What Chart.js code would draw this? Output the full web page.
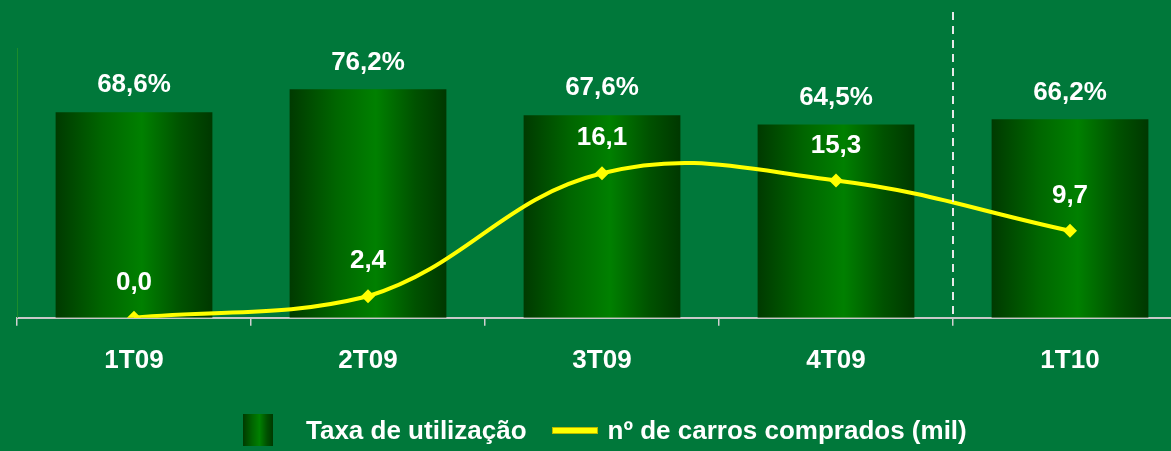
<!DOCTYPE html>
<html>
<head>
<meta charset="utf-8">
<script src="https://cdn.jsdelivr.net/npm/chart.js@4"></script>
<style>
  html, body { margin: 0; padding: 0; background: #00783a; overflow: hidden; }
  .wrap { position: relative; width: 1171px; height: 451px; overflow: hidden; }
  canvas { position: absolute; left: 0; top: 0; }
  .legend { position: absolute; left: 243px; top: 414px; display: flex; align-items: center;
            font: bold 26px "Liberation Sans", Arial, sans-serif; color: #fff; white-space: nowrap; }
  .box { width: 30px; height: 32px; margin-right: 33px;
         background: linear-gradient(to right, #003a00 0%, #006400 30%, #008000 55%, #005000 80%, #003800 100%); }
  .ln { width: 44px; height: 5px; background: #ffff00; border: 1px solid #b8b800; margin: 0 10px 0 25px; }
</style>
</head>
<body>
<div class="wrap">
  <canvas id="myChart" width="1194" height="451"></canvas>
  <div class="legend">
    <span class="box"></span><span>Taxa de utilização</span>
    <span class="ln"></span><span>nº de carros comprados (mil)</span>
  </div>
</div>
<script>
const categories = ['1T09', '2T09', '3T09', '4T09', '1T10'];
const taxaUtilizacao = [68.6, 76.2, 67.6, 64.5, 66.2];
const carrosComprados = [0.0, 2.4, 16.1, 15.3, 9.7];

const FONT = '"Liberation Sans", Arial, sans-serif';
const fmt = v => v.toFixed(1).replace('.', ',');

function barGradient(c) {
    const chart = c.chart;
    if (!chart.chartArea) return '#006400';
    const x = chart.scales.x;
    const step = x.getPixelForValue(1) - x.getPixelForValue(0);
    const w = step * 0.67;
    const cx = x.getPixelForValue(c.dataIndex);
    const g = chart.ctx.createLinearGradient(cx - w / 2, 0, cx + w / 2, 0);
    g.addColorStop(0, '#003a00');
    g.addColorStop(0.3, '#006600');
    g.addColorStop(0.55, '#008000');
    g.addColorStop(0.8, '#005200');
    g.addColorStop(1, '#003800');
    return g;
}

// linha tracejada, eixo esquerdo e rótulos
const extras = {
    id: 'extras',
    afterDatasetsDraw(chart) {
        const ctx = chart.ctx, x = chart.scales.x, area = chart.chartArea;
        ctx.save();
        // eixo y discreto
        ctx.strokeStyle = '#1c8c2c';
        ctx.lineWidth = 1;
        ctx.beginPath();
        ctx.moveTo(area.left + 0.5, area.top + 30);
        ctx.lineTo(area.left + 0.5, area.bottom);
        ctx.stroke();
        // separador 2009 / 2010
        const sx = (x.getPixelForValue(3) + x.getPixelForValue(4)) / 2;
        ctx.strokeStyle = '#e8e8e8';
        ctx.lineWidth = 2;
        ctx.setLineDash([8, 6]);
        ctx.beginPath();
        ctx.moveTo(sx, area.top - 6);
        ctx.lineTo(sx, area.bottom - 2);
        ctx.stroke();
        ctx.setLineDash([]);

        ctx.fillStyle = '#fff';
        ctx.font = 'bold 26px ' + FONT;
        ctx.textAlign = 'center';
        ctx.textBaseline = 'middle';
        chart.getDatasetMeta(1).data.forEach((bar, i) => {
            ctx.fillText(fmt(taxaUtilizacao[i]) + '%', bar.x, bar.y - 27);
        });
        chart.getDatasetMeta(0).data.forEach((pt, i) => {
            ctx.fillText(fmt(carrosComprados[i]), pt.x, pt.y - 35);
        });
        ctx.restore();
    }
};

const ctx = document.getElementById('myChart');
const myChart = new Chart(ctx, {
    data: {
        labels: categories,
        datasets: [{
            type: 'line',
            label: 'nº de carros comprados (mil)',
            data: carrosComprados,
            yAxisID: 'y1',
            borderColor: '#ffff00',
            backgroundColor: '#ffff00',
            borderWidth: 4,
            tension: 0.4,
            pointStyle: 'rectRot',
            pointRadius: 7,
            pointBorderWidth: 0,
            order: 0
        }, {
            type: 'bar',
            label: 'Taxa de utilização',
            data: taxaUtilizacao,
            yAxisID: 'y',
            backgroundColor: barGradient,
            categoryPercentage: 1,
            barPercentage: 0.67,
            order: 1
        }]
    },
    options: {
        responsive: false,
        animation: false,
        layout: { padding: { left: 17, top: 18, right: 0, bottom: 56 } },
        plugins: { legend: { display: false }, tooltip: { enabled: false } },
        scales: {
            x: {
                offset: true,
                grid: { offset: true, drawOnChartArea: false, color: '#d0d0d0', tickLength: 8, lineWidth: 1.5 },
                border: { color: '#c8c8c8', width: 2 },
                ticks: { color: '#fff', font: { family: FONT, size: 26, weight: 'bold' }, padding: 19 }
            },
            y: { display: false, min: 0, max: 100 },
            y1: { display: false, min: 0, max: 33.4 }
        }
    },
    plugins: [extras]
});
</script>
</body>
</html>
